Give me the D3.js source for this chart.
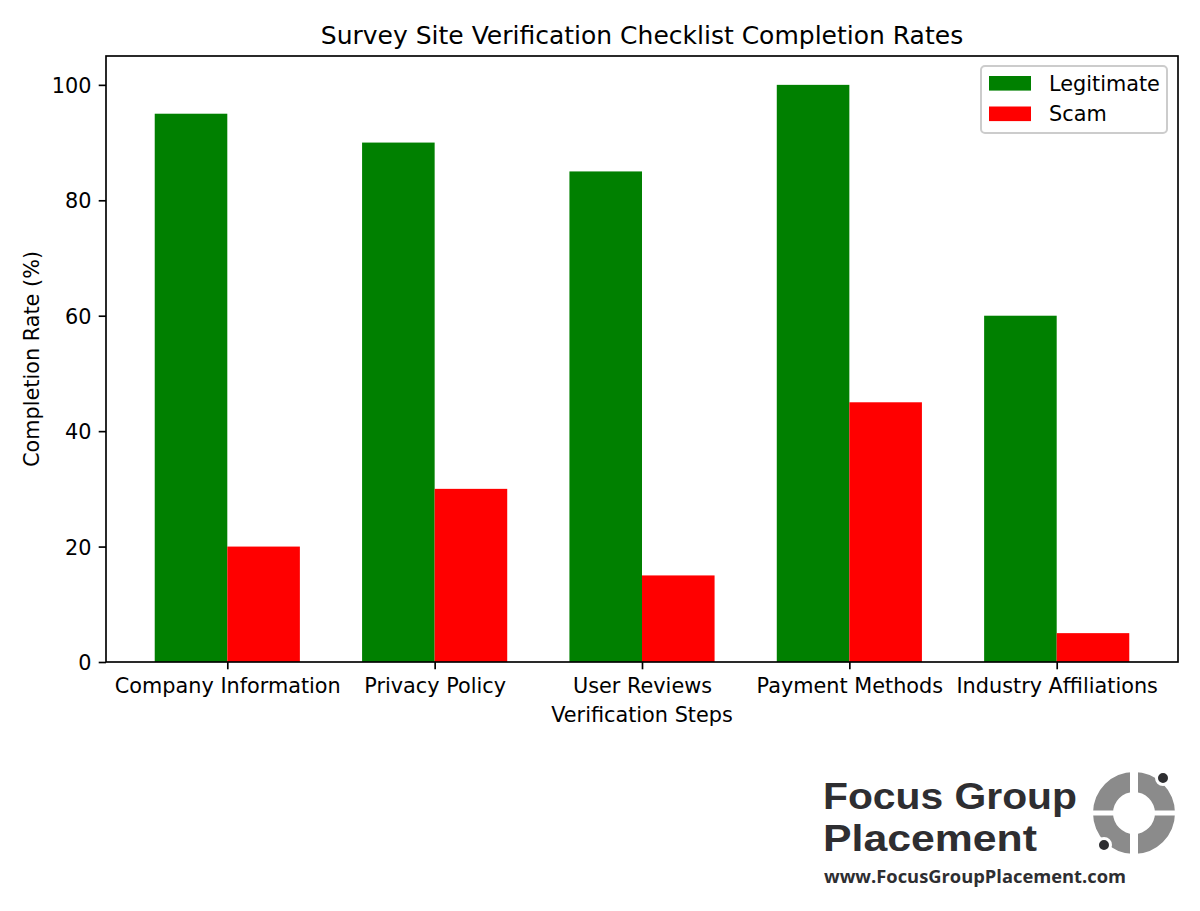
<!DOCTYPE html>
<html>
<head>
<meta charset="utf-8">
<script src="https://cdn.jsdelivr.net/npm/d3@7/dist/d3.min.js"></script>
<style>
  html, body { margin: 0; padding: 0; background: #ffffff; }
  svg { display: block; }
  text { font-family: "DejaVu Sans", sans-serif; }
</style>
</head>
<body>
<svg id="chart" width="1200" height="911"></svg>
<script>
// ---- Data ----
const categories = ["Company Information", "Privacy Policy", "User Reviews", "Payment Methods", "Industry Affiliations"];
const legitimateValues = [95, 90, 85, 100, 60];
const scamValues = [20, 30, 15, 45, 5];
const seriesNames = ["Legitimate", "Scam"];
const seriesColors = ["#008000", "#ff0000"];
const yTicks = [0, 20, 40, 60, 80, 100];

const titleText = "Survey Site Verification Checklist Completion Rates";
const xLabelText = "Verification Steps";
const yLabelText = "Completion Rate (%)";

// ---- Layout ----
const svg = d3.select("#chart");
const L = 106, R = 1178, T = 56, B = 662;
const fs = 20.8;
const barW = 0.35;
const tickLen = 7.3;
const lw = 1.67;

const x = d3.scaleLinear().domain([-0.585, 4.585]).range([L, R]);
const y = d3.scaleLinear().domain([0, 105]).range([B, T]);

const series = [legitimateValues, scamValues];
const offsets = [-barW / 2, barW / 2];

// Bars
series.forEach((vals, s) => {
  svg.append("g").selectAll("rect")
    .data(vals)
    .join("rect")
    .attr("x", (d, i) => x(i + offsets[s] - barW / 2))
    .attr("width", (d, i) => x(i + offsets[s] + barW / 2) - x(i + offsets[s] - barW / 2))
    .attr("y", d => y(d))
    .attr("height", d => y(0) - y(d))
    .attr("fill", seriesColors[s]);
});

// Axes
const xAxis = d3.axisBottom(x)
  .tickValues(d3.range(categories.length))
  .tickFormat(i => categories[i])
  .tickSizeInner(tickLen).tickSizeOuter(0).tickPadding(8.5);
const gx = svg.append("g").attr("transform", `translate(0,${B})`).call(xAxis);
gx.select(".domain").remove();
gx.selectAll(".tick line").attr("stroke", "#000").attr("stroke-width", lw);
gx.selectAll(".tick text").attr("font-size", fs).attr("fill", "#000")
  .attr("font-family", "DejaVu Sans").attr("dy", "0.73em");

const yAxis = d3.axisLeft(y)
  .tickValues(yTicks)
  .tickSizeInner(tickLen).tickSizeOuter(0).tickPadding(7.3);
const gy = svg.append("g").attr("transform", `translate(${L},0)`).call(yAxis);
gy.select(".domain").remove();
gy.selectAll(".tick line").attr("stroke", "#000").attr("stroke-width", lw);
gy.selectAll(".tick text").attr("font-size", fs).attr("fill", "#000")
  .attr("font-family", "DejaVu Sans").attr("dy", "0.36em");

// Spines
svg.append("rect")
  .attr("x", L).attr("y", T).attr("width", R - L).attr("height", B - T)
  .attr("fill", "none").attr("stroke", "#000").attr("stroke-width", lw);

// Title & labels
svg.append("text").attr("x", (L + R) / 2).attr("y", 43.5)
  .attr("text-anchor", "middle").attr("font-size", 25).attr("fill", "#000")
  .text(titleText);
svg.append("text").attr("x", (L + R) / 2).attr("y", 722)
  .attr("text-anchor", "middle").attr("font-size", fs).attr("fill", "#000")
  .text(xLabelText);
svg.append("text")
  .attr("transform", `translate(38.5,${(T + B) / 2}) rotate(-90)`)
  .attr("text-anchor", "middle").attr("font-size", fs).attr("fill", "#000")
  .text(yLabelText);

// Legend
const lg = svg.append("g");
lg.append("rect").attr("x", 981).attr("y", 66).attr("width", 186).attr("height", 67)
  .attr("rx", 4).attr("ry", 4)
  .attr("fill", "#ffffff").attr("fill-opacity", 0.8)
  .attr("stroke", "#cccccc").attr("stroke-width", 2);
seriesNames.forEach((name, i) => {
  const py = 76 + i * 30.5;
  lg.append("rect").attr("x", 989).attr("y", py).attr("width", 42).attr("height", 14.6)
    .attr("fill", seriesColors[i]);
  lg.append("text").attr("x", 1049).attr("y", py + 14.8)
    .attr("font-size", fs).attr("fill", "#000").text(name);
});

// Logo
const logo = svg.append("g");
const logoColor = "#2e2e31";
logo.append("text").attr("x", 823).attr("y", 809)
  .attr("font-weight", 700).attr("font-size", 37.5)
  .attr("fill", logoColor).attr("textLength", 254).attr("lengthAdjust", "spacingAndGlyphs")
  .style("font-family", "'Liberation Sans', Arial, sans-serif")
  .text("Focus Group");
logo.append("text").attr("x", 823).attr("y", 851)
  .attr("font-weight", 700).attr("font-size", 37.5)
  .attr("fill", logoColor).attr("textLength", 214).attr("lengthAdjust", "spacingAndGlyphs")
  .style("font-family", "'Liberation Sans', Arial, sans-serif")
  .text("Placement");
logo.append("text").attr("x", 824).attr("y", 883)
  .attr("font-weight", 700).attr("font-size", 18.5)
  .attr("fill", logoColor).attr("textLength", 302).attr("lengthAdjust", "spacingAndGlyphs")
  .style("font-family", "'Open Sans', sans-serif")
  .text("www.FocusGroupPlacement.com");

// Ring icon
const cx = 1134, cy = 813, Ro = 41, Ri = 21;
const ringColor = "#8b8b8b";
const arc = d3.arc().innerRadius(Ri).outerRadius(Ro);
const icon = logo.append("g").attr("transform", `translate(${cx},${cy})`);
const quarters = [[0, Math.PI / 2], [Math.PI / 2, Math.PI], [Math.PI, 1.5 * Math.PI], [1.5 * Math.PI, 2 * Math.PI]];
quarters.forEach(q => {
  icon.append("path").attr("d", arc({ startAngle: q[0], endAngle: q[1] })).attr("fill", ringColor);
});
// gaps (white cross)
icon.append("rect").attr("x", -4).attr("y", -Ro - 2).attr("width", 8).attr("height", 2 * Ro + 4).attr("fill", "#fff");
icon.append("rect").attr("x", -Ro - 2).attr("y", -2.5).attr("width", 2 * Ro + 4).attr("height", 5).attr("fill", "#fff");
// dots
logo.append("circle").attr("cx", 1163).attr("cy", 778).attr("r", 6.5)
  .attr("fill", logoColor).attr("stroke", "#fff").attr("stroke-width", 3);
logo.append("circle").attr("cx", 1104).attr("cy", 845).attr("r", 6.5)
  .attr("fill", logoColor).attr("stroke", "#fff").attr("stroke-width", 3);
</script>
</body>
</html>
